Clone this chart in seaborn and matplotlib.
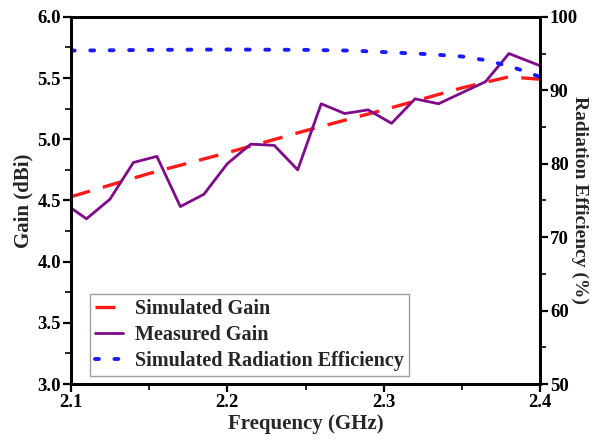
import numpy as np
import pandas as pd
import matplotlib
matplotlib.use("Agg")
import matplotlib.pyplot as plt
import seaborn as sns
from matplotlib.ticker import MultipleLocator

# Data
meas_freq = [2.100, 2.110, 2.125, 2.140, 2.155, 2.170, 2.185, 2.200, 2.215, 2.230,
             2.245, 2.260, 2.275, 2.290, 2.305, 2.320, 2.335, 2.350, 2.365, 2.380, 2.400]
meas_gain = [4.44, 4.35, 4.51, 4.81, 4.86, 4.45, 4.55, 4.80, 4.96, 4.95,
             4.75, 5.29, 5.21, 5.24, 5.13, 5.33, 5.29, 5.38, 5.47, 5.70, 5.60]

sim_freq = [2.10, 2.15, 2.20, 2.25, 2.30, 2.35, 2.38, 2.40]
sim_gain = [4.53, 4.72, 4.89, 5.07, 5.24, 5.42, 5.51, 5.49]

eff_freq = [2.10, 2.15, 2.20, 2.25, 2.28, 2.31, 2.33, 2.35, 2.365, 2.38, 2.39, 2.40]
eff_vals = [95.4, 95.5, 95.55, 95.5, 95.4, 95.1, 94.9, 94.6, 94.1, 93.3, 92.6, 91.8]

sns.set_theme(style="white")
plt.rcParams['font.family'] = ['Liberation Serif', 'DejaVu Serif']
plt.rcParams['font.weight'] = 'bold'
plt.rcParams['axes.labelweight'] = 'bold'

fig, ax = plt.subplots(figsize=(5.95, 4.43), dpi=100)
fig.subplots_adjust(left=0.119, right=0.908, top=0.962, bottom=0.133)
ax2 = ax.twinx()

df_sim = pd.DataFrame({"f": sim_freq, "g": sim_gain})
df_meas = pd.DataFrame({"f": meas_freq, "g": meas_gain})
df_eff = pd.DataFrame({"f": eff_freq, "e": eff_vals})

sns.lineplot(data=df_sim, x="f", y="g", ax=ax, color="#ff1a1a", lw=2.4,
             linestyle=(0, (6, 4)), label="Simulated Gain", legend=False)
sns.lineplot(data=df_meas, x="f", y="g", ax=ax, color="#7f0a8a", lw=2.0,
             label="Measured Gain", legend=False)
sns.lineplot(data=df_eff, x="f", y="e", ax=ax2, color="#1a1aff", lw=2.8,
             linestyle=(0, (1, 4)), label="Simulated Radiation Efficiency", legend=False)
for l in ax2.get_lines():
    l.set_dash_capstyle('round')

ax.set_xlim(2.1, 2.4)
ax.set_ylim(3.0, 6.0)
ax2.set_ylim(50, 100)

ax.xaxis.set_major_locator(MultipleLocator(0.1))
ax.xaxis.set_minor_locator(MultipleLocator(0.05))
ax.yaxis.set_major_locator(MultipleLocator(0.5))
ax.yaxis.set_minor_locator(MultipleLocator(0.25))
ax2.yaxis.set_major_locator(MultipleLocator(10))
ax2.yaxis.set_minor_locator(MultipleLocator(5))
ax.xaxis.set_major_formatter(matplotlib.ticker.FormatStrFormatter('%.1f'))
ax.yaxis.set_major_formatter(matplotlib.ticker.FormatStrFormatter('%.1f'))

for a in (ax, ax2):
    for s in a.spines.values():
        s.set_linewidth(2.0)
        s.set_color('black')

ax.tick_params(axis='both', which='major', direction='out', length=6, width=1.6,
               labelsize=13.5, colors='black', bottom=True, left=True, top=False, right=False, pad=1)
ax.tick_params(axis='both', which='minor', direction='out', length=4, width=1.4,
               bottom=True, left=True, top=False, right=False)
ax2.tick_params(axis='y', which='major', direction='out', length=6, width=1.6,
                labelsize=13.5, colors='black', right=True, pad=1)
ax2.tick_params(axis='y', which='minor', direction='out', length=4, width=1.4, right=True)

for lab in ax.get_xticklabels() + ax.get_yticklabels() + ax2.get_yticklabels():
    lab.set_fontweight('bold')

ax.set_xlabel("Frequency (GHz)", fontsize=15, fontweight='bold', labelpad=2)
ax.set_ylabel("Gain (dBi)", fontsize=15, fontweight='bold', labelpad=3)
ax2.set_ylabel("Radiation Efficiency (%)", fontsize=14, fontweight='bold',
               rotation=270, ha='center', va='center')
ax2.yaxis.set_label_coords(1.083, 0.5)

h1, l1 = ax.get_legend_handles_labels()
h2, l2 = ax2.get_legend_handles_labels()
leg = ax2.legend(h1 + h2, l1 + l2, loc='lower left', bbox_to_anchor=(0.04, 0.022),
                 borderaxespad=0.0,
                 frameon=True, fancybox=False, edgecolor='#888888',
                 handlelength=1.4, handletextpad=0.6, borderpad=0.25, labelspacing=0.3,
                 prop={'weight': 'bold', 'size': 14.5, 'family': 'Liberation Serif'})
leg.get_frame().set_linewidth(1.0)

fig.savefig("out.png", dpi=100)
